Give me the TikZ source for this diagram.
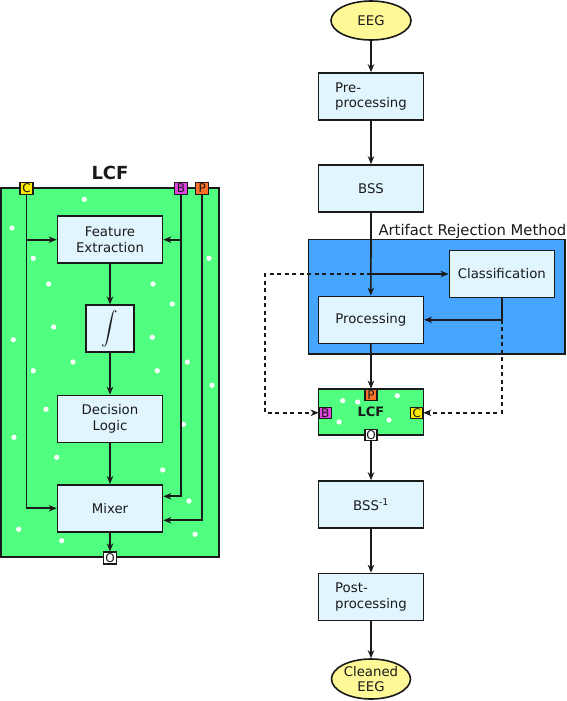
\documentclass[tikz,border=0pt]{standalone}
\usepackage{fontspec}
\setmainfont{DejaVu Sans}
\usetikzlibrary{arrows.meta,shapes.geometric,calc}
\definecolor{lcfgreen}{RGB}{80,255,128}
\definecolor{armblue}{RGB}{70,166,255}
\definecolor{boxblue}{RGB}{225,245,255}
\definecolor{eegyellow}{RGB}{255,248,150}
\definecolor{portC}{RGB}{250,235,0}
\definecolor{portB}{RGB}{225,70,225}
\definecolor{portP}{RGB}{255,112,40}
\definecolor{ink}{RGB}{26,26,26}
\tikzset{
  every node/.style={text=ink,font=\fontsize{13.3}{15.5}\selectfont},
  blk/.style={draw=ink,line width=1.6pt,fill=boxblue,minimum width=105pt,minimum height=47pt,inner sep=0pt,align=left},
  oval/.style={draw=ink,line width=1.6pt,fill=eegyellow,ellipse,inner sep=0pt,align=center},
  port/.style={draw=ink,line width=1.2pt,minimum width=12pt,minimum height=11pt,inner sep=0pt,font=\fontsize{12}{12}\selectfont},
  conn/.style={draw=ink,line width=1.7pt,-{Stealth[length=8pt,width=6.5pt,inset=2.5pt]}},
  dconn/.style={conn,dash pattern=on 4pt off 3.5pt},
}
\begin{document}
\begin{tikzpicture}[x=1pt,y=-1pt]
\useasboundingbox (0,0) rectangle (566,701);
% ===== left: LCF detail =====
\node[font=\bfseries\fontsize{18}{18}\selectfont] (lcftitle) at (110,173) {LCF};
\draw[draw=ink,line width=1.6pt,fill=lcfgreen] (1,188) rectangle (219,557);
\foreach \p in {(84.3,199.3),(12,228),(33.3,258.3),(209,258.3),(48.7,284),(153,284),(172.3,304),(53.7,327),(13.3,339.7),(152.3,337.3),(73,362),(187.3,362),(33.3,370.7),(157.3,370.7),(212,385.3),(46,409.3),(183.3,424.3),(14,437.3),(56.7,457.3),(162.7,470),(189,501),(18.7,529.3),(61.7,540.7),(195,534.3)}
  \fill[white] \p circle (2.6);
\node[blk,align=center] (fe) at (110,239.7) {Feature\\Extraction};
\node[blk,minimum width=48pt] (int) at (110,328.7) {\scalebox{1.65}{$\displaystyle\int$}};
\node[blk,align=center] (dl) at (110,419) {Decision\\Logic};
\node[blk,align=center] (mix) at (110,508.3) {Mixer};
\node[port,fill=portC,minimum width=13pt,minimum height=12pt] (pc) at (26.5,188.3) {C};
\node[port,fill=portB,minimum width=13pt,minimum height=12pt] (pb) at (181,188.3) {B};
\node[port,fill=portP,minimum width=13pt,minimum height=12pt] (pp) at (202.3,188.3) {P};
\node[port,fill=white,minimum width=13pt,minimum height=12pt] (po) at (110,558) {O};
\coordinate (mixB) at ($(mix.east)+(0,-12)$);
\coordinate (mixP) at ($(mix.east)+(0,12)$);
\draw[conn] (pc.south) |- (mix.west);
\draw[conn] (pc.south |- fe.west) -- (fe.west);
\draw[conn] (pb.south) |- (mixB);
\draw[conn] (pb.south |- fe.east) -- (fe.east);
\draw[conn] (pp.south) |- (mixP);
\draw[conn] (fe) -- (int);
\draw[conn] (int) -- (dl);
\draw[conn] (dl) -- (mix);
\draw[conn] (mix) -- (po);
% ===== right: pipeline =====
\draw[draw=ink,line width=1.6pt,fill=armblue] (308.3,239.3) rectangle (565,354);
\node[anchor=base west,font=\fontsize{14.8}{16}\selectfont] (armlabel) at (375,235) {Artifact Rejection Method};
\node[oval,minimum width=80pt,minimum height=39pt] (eeg) at (371,20.5) {EEG};
\node[blk] (pre) at (371,96.5) {Pre-\\processing};
\node[blk] (bss) at (371,188.5) {BSS};
\node[blk] (cls) at (501.8,274) {Classification};
\node[blk] (proc) at (370.8,319.8) {Processing};
\draw[draw=ink,line width=1.6pt,fill=lcfgreen] (318.3,389) rectangle (423.3,435);
\foreach \p in {(342.7,400.7),(357.7,402),(397.3,395.7),(339,422),(389,420)}
  \fill[white] \p circle (2.6);
\node[font=\bfseries\fontsize{13}{13}\selectfont] (lcfs) at (371,411.5) {LCF};
\node[port,fill=portP] (sp) at (371,394.7) {P};
\node[port,fill=portB] (sb) at (325.2,412.8) {B};
\node[port,fill=portC] (sc) at (416.7,412.8) {C};
\node[port,fill=white] (so) at (371,435.2) {O};
\node[blk,align=center] (bssinv) at (371,504.5) {BSS\textsuperscript{-1}};
\node[blk] (post) at (371,597) {Post-\\processing};
\node[oval,minimum width=79pt,minimum height=40pt] (clean) at (371,679) {Cleaned\\EEG};
\coordinate (split) at (bss.south |- cls.west);
\coordinate (dleft) at (265,274);
\coordinate (ccorner) at (cls.south |- proc.east);
\draw[conn] (eeg) -- (pre);
\draw[conn] (pre) -- (bss);
\draw[conn] (bss) -- (proc);
\draw[conn] (split) -- (cls.west);
\draw[dconn] (split) -- (dleft) |- (sb.west);
\draw[conn] (cls.south) |- (proc.east);
\draw[dconn] (ccorner) |- (sc.east);
\draw[conn] (proc) -- (sp.north);
\draw[conn] (so.south) -- (bssinv);
\draw[conn] (bssinv) -- (post);
\draw[conn] (post) -- (clean);
\end{tikzpicture}
\end{document}
